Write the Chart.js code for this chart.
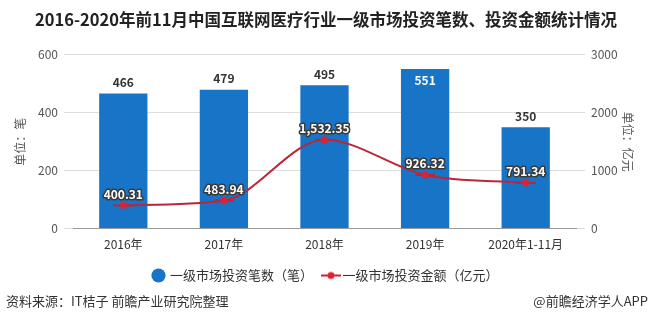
<!DOCTYPE html>
<html>
<head>
<meta charset="utf-8">
<script src="https://cdn.jsdelivr.net/npm/chart.js@4.4.1/dist/chart.umd.min.js"></script>
<style>
  html, body { margin: 0; padding: 0; background: #fff; }
  #wrap { position: relative; width: 652px; height: 326px; }
</style>
</head>
<body>
<div id="wrap"><canvas id="chart" width="652" height="326"></canvas></div>
<script>
const years = ["2016年", "2017年", "2018年", "2019年", "2020年1-11月"];
const dealCount = [466, 479, 495, 551, 350];
const dealAmount = [400.31, 483.94, 1532.35, 926.32, 791.34];
const leftTicks = [0, 200, 400, 600];
const rightTicks = [0, 1000, 2000, 3000];

const FONT = "'Noto Sans CJK SC', 'Noto Sans', sans-serif";
const barColor = "#1874c6";
const lineColor = "#bb2638";
const dotColor = "#e3202f";

// legend icon for the line series: short line with a dot
const lineIcon = document.createElement("canvas");
lineIcon.width = 20;
lineIcon.height = 10;
(function () {
  const c = lineIcon.getContext("2d");
  c.strokeStyle = lineColor;
  c.lineWidth = 2;
  c.beginPath();
  c.moveTo(0, 5);
  c.lineTo(20, 5);
  c.stroke();
  c.fillStyle = dotColor;
  c.beginPath();
  c.arc(10, 5, 3.5, 0, Math.PI * 2);
  c.fill();
})();

// value labels on bars and points
const valueLabels = {
  id: "valueLabels",
  afterDatasetsDraw(chart) {
    const ctx = chart.ctx;
    ctx.save();
    ctx.textAlign = "center";
    ctx.textBaseline = "middle";
    ctx.font = "bold 12px " + FONT;

    chart.getDatasetMeta(0).data.forEach((bar, i) => {
      let y = bar.y - 11;
      ctx.fillStyle = "#333";
      if (y < chart.chartArea.top + 4) {
        y = bar.y + 11;
        ctx.fillStyle = "#fff";
      }
      ctx.fillText(dealCount[i], bar.x, y);
    });

    chart.getDatasetMeta(1).data.forEach((pt, i) => {
      const txt = dealAmount[i].toLocaleString("en-US", { minimumFractionDigits: 2 });
      ctx.lineWidth = 3;
      ctx.lineJoin = "round";
      ctx.strokeStyle = "#3a3a3a";
      ctx.strokeText(txt, pt.x, pt.y - 11);
      ctx.fillStyle = "#fff";
      ctx.fillText(txt, pt.x, pt.y - 11);
    });
    ctx.restore();
  }
};

// axis unit titles and footer text
const extras = {
  id: "extras",
  afterDraw(chart) {
    const ctx = chart.ctx;
    const area = chart.chartArea;
    const midY = (area.top + area.bottom) / 2;
    ctx.save();
    ctx.fillStyle = "#555";
    ctx.font = "12px " + FONT;
    ctx.textAlign = "center";
    ctx.textBaseline = "middle";

    ctx.save();
    ctx.translate(20, midY);
    ctx.rotate(-Math.PI / 2);
    ctx.fillText("单位：笔", 0, 0);
    ctx.restore();

    ctx.save();
    ctx.translate(628, midY);
    ctx.rotate(Math.PI / 2);
    ctx.fillText("单位：亿元", 0, 0);
    ctx.restore();

    ctx.fillStyle = "#333";
    ctx.font = "13px " + FONT;
    ctx.textAlign = "left";
    ctx.fillText("资料来源：IT桔子 前瞻产业研究院整理", 6, 301);
    ctx.textAlign = "right";
    ctx.fillText("@前瞻经济学人APP", 648, 301);
    ctx.restore();
  }
};

new Chart(document.getElementById("chart"), {
  data: {
    labels: years,
    datasets: [
      {
        type: "bar",
        label: "一级市场投资笔数（笔）",
        data: dealCount,
        backgroundColor: barColor,
        yAxisID: "y",
        barPercentage: 0.96,
        categoryPercentage: 0.5,
        order: 2,
        pointStyle: "circle"
      },
      {
        type: "line",
        label: "一级市场投资金额（亿元）",
        data: dealAmount,
        borderColor: lineColor,
        backgroundColor: dotColor,
        pointBackgroundColor: dotColor,
        pointBorderColor: dotColor,
        pointRadius: 4,
        borderWidth: 2,
        tension: 0.4,
        cubicInterpolationMode: "monotone",
        yAxisID: "y1",
        order: 1,
        pointStyle: lineIcon
      }
    ]
  },
  options: {
    responsive: false,
    animation: false,
    layout: { padding: { top: 6, left: 0, right: 0, bottom: 34 } },
    plugins: {
      title: {
        display: true,
        text: "2016-2020年前11月中国互联网医疗行业一级市场投资笔数、投资金额统计情况",
        color: "#222",
        font: { family: FONT, size: 16.5, weight: "bold" },
        padding: { top: 4, bottom: 25 }
      },
      legend: {
        position: "bottom",
        labels: {
          usePointStyle: true,
          boxWidth: 10,
          boxHeight: 10,
          padding: 13,
          color: "#333",
          font: { family: FONT, size: 13 },
          sort: (a, b) => a.datasetIndex - b.datasetIndex
        }
      },
      tooltip: { enabled: false }
    },
    scales: {
      x: {
        grid: { display: false, drawTicks: true, tickLength: 5 },
        border: { color: "#999" },
        ticks: { color: "#333", font: { family: FONT, size: 12 }, padding: 4 }
      },
      y: {
        position: "left",
        min: 0,
        max: 600,
        afterBuildTicks: (s) => { s.ticks = leftTicks.map(v => ({ value: v })); },
        afterFit: (s) => { s.width = 73; },
        grid: { color: "#ddd", drawTicks: true, tickLength: 9 },
        border: { display: false },
        ticks: { color: "#555", font: { family: FONT, size: 12 }, padding: 6 }
      },
      y1: {
        position: "right",
        min: 0,
        max: 3000,
        afterBuildTicks: (s) => { s.ticks = rightTicks.map(v => ({ value: v })); },
        afterFit: (s) => { s.width = 76; },
        grid: { color: "#ddd", drawOnChartArea: false, drawTicks: true, tickLength: 9 },
        border: { display: false },
        ticks: { color: "#555", font: { family: FONT, size: 12 }, padding: 6, callback: (v) => String(v) }
      }
    }
  },
  plugins: [valueLabels, extras]
});
</script>
</body>
</html>
